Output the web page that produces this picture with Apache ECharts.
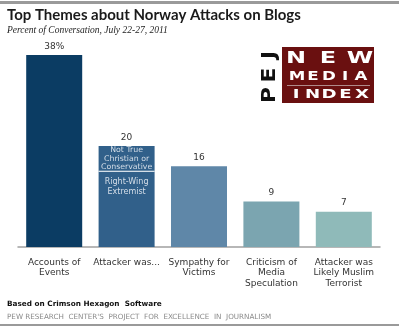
<!DOCTYPE html>
<html><head><meta charset="utf-8">
<script src="https://cdn.jsdelivr.net/npm/echarts@6/dist/echarts.min.js"></script>
<style>html,body{margin:0;padding:0;background:#fff}#c{width:399px;height:327px}</style>
</head><body><div id="c"></div>
<script>
const categories = ['Accounts of\nEvents', 'Attacker was...', 'Sympathy for\nVictims', 'Criticism of\nMedia\nSpeculation', 'Attacker was\nLikely Muslim\nTerrorist'];
const baseValues = [38, 15, 16, 9, 7];      // Right-Wing Extremist portion for bar 2
const topValues  = [0, 5, 0, 0, 0];         // Not True Christian or Conservative portion
const totals     = [38, 20, 16, 9, 7];
const barColors  = ['#0b3c63', '#31608a', '#5f87a8', '#7ba5b0', '#8fbab9'];
const valueLabels = ['38%', '20', '16', '9', '7'];
const segLabels = ['Right-Wing\nExtremist', 'Not True\nChristian or\nConservative'];

const chart = echarts.init(document.getElementById('c'), null, {renderer: 'canvas'});
const lblFont = 'Verdana, "DejaVu Sans", sans-serif';

function spaced(str, x0, x1, y, size, color, weight, sx, rot) {
  const n = str.length, out = [];
  for (let i = 0; i < n; i++) {
    const t = n > 1 ? i / (n - 1) : 0;
    const el = {type: 'text', z: 100, scaleX: sx || 1,
      style: {text: str[i], fill: color, font: (weight || 'normal') + ' ' + size + 'px "DejaVu Sans", sans-serif', textAlign: 'center', textVerticalAlign: 'middle'}};
    if (rot) { el.x = y; el.y = x1 - (x1 - x0) * t; el.rotation = Math.PI / 2; }
    else { el.x = x0 + (x1 - x0) * t; el.y = y; }
    out.push(el);
  }
  return out;
}

const graphics = [
  {type: 'rect', shape: {x: 0, y: 1, width: 399, height: 3}, style: {fill: '#9a9a9a'}},
  {type: 'rect', shape: {x: 0, y: 324, width: 399, height: 2}, style: {fill: '#9a9a9a'}},
  {type: 'text', x: 7, y: 15.5, style: {text: 'Top Themes about Norway Attacks on Blogs', fill: '#1a1a1a', font: 'bold 15px Lato, "Open Sans", sans-serif', textVerticalAlign: 'middle'}},
  {type: 'text', x: 7, y: 30, style: {text: 'Percent of Conversation, July 22-27, 2011', fill: '#222', font: 'italic 9.5px "Liberation Serif", serif', textVerticalAlign: 'middle'}},
  {type: 'text', x: 7, y: 304, style: {text: 'Based on Crimson Hexagon  Software', fill: '#111', font: 'bold 7.3px Verdana, "DejaVu Sans", sans-serif', textVerticalAlign: 'middle'}},
  {type: 'text', x: 7, y: 317, style: {text: 'PEW RESEARCH  CENTER\'S  PROJECT  FOR  EXCELLENCE  IN  JOURNALISM', fill: '#8a8a8a', font: '7.2px Verdana, "DejaVu Sans", sans-serif', textVerticalAlign: 'middle'}},
  // logo
  {type: 'rect', shape: {x: 282, y: 47, width: 92, height: 56}, style: {fill: '#6a1010'}},
  {type: 'rect', shape: {x: 287, y: 85, width: 83, height: 1}, style: {fill: '#b08a8a'}}
].concat(spaced('PEJ', 55, 95, 270, 19, '#111', 'bold', 1.15, true))
 .concat(spaced('NEW', 296, 360, 59, 15, '#fff', 'bold', 1.6))
 .concat(spaced('MEDIA', 297, 361, 77.5, 11.5, '#fff', 'bold', 1.45))
 .concat(spaced('INDEX', 296, 362, 94.5, 12.5, '#fff', 'bold', 1.45));

chart.setOption({
  animation: false,
  grid: {left: 18, right: 19, top: 45, bottom: 80},
  xAxis: {
    type: 'category', data: categories,
    axisLine: {lineStyle: {color: '#a0a0a0', width: 1.5}},
    axisTick: {show: false},
    axisLabel: {interval: 0, color: '#333', fontFamily: lblFont, fontSize: 9, lineHeight: 10.5, margin: 10}
  },
  yAxis: {type: 'value', min: 0, max: 40, show: false, splitLine: {show: false}},
  series: [
    {
      type: 'bar', stack: 's', barWidth: 56,
      data: baseValues.map((v, i) => ({
        value: v, itemStyle: {color: barColors[i]},
        label: i === 1 ? {show: true, position: 'insideTop', distance: 6, formatter: segLabels[0], color: '#d5dee8', fontFamily: lblFont, fontSize: 8, lineHeight: 10}
                       : {show: true, position: 'top', distance: 4, formatter: valueLabels[i], color: '#333', fontFamily: lblFont, fontSize: 9}
      }))
    },
    {
      type: 'bar', stack: 's', barWidth: 56,
      data: topValues.map((v, i) => ({
        value: v,
        itemStyle: {color: barColors[i]},
        label: i === 1 ? {show: true, position: 'inside', formatter: segLabels[1], color: '#d5dee8', fontFamily: lblFont, fontSize: 7.8, lineHeight: 8.5}
                       : {show: false}
      }))
    },
    {
      // total label for the split bar
      type: 'bar', stack: 's', barWidth: 56, silent: true,
      data: totals.map((v, i) => ({value: 0, itemStyle: {color: 'transparent'},
        label: i === 1 ? {show: true, position: 'top', distance: 4, formatter: valueLabels[i], color: '#333', fontFamily: lblFont, fontSize: 9} : {show: false}}))
    },
    {
      // white divider between the two segments
      type: 'line', data: baseValues.map((v, i) => i === 1 ? v : null),
      symbol: 'rect', symbolSize: [56, 1.2], itemStyle: {color: '#fff'}, lineStyle: {width: 0}, silent: true, z: 5
    }
  ],
  graphic: graphics
});
</script></body></html>
